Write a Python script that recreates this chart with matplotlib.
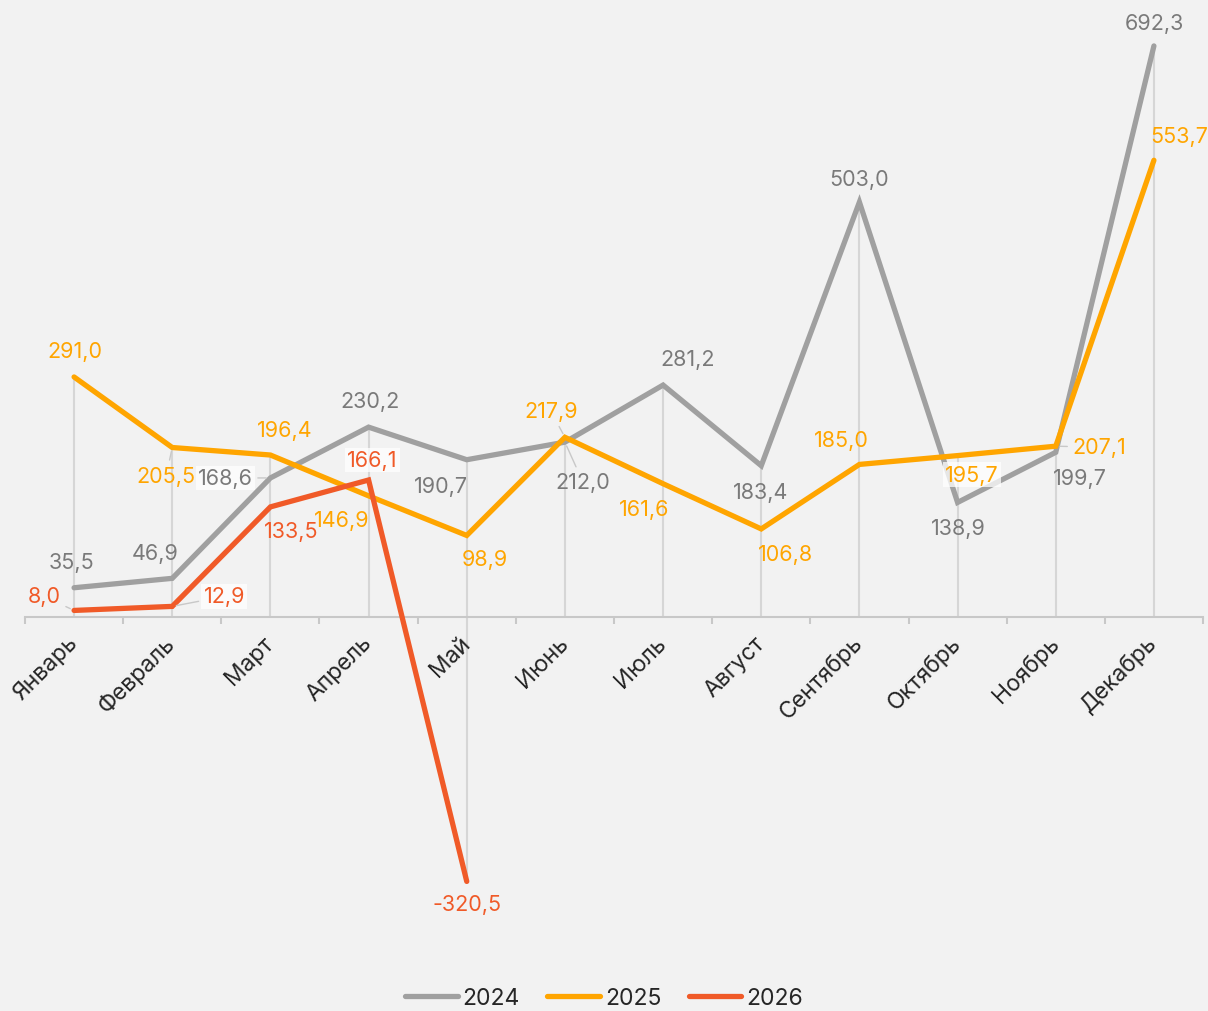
import numpy as np
import matplotlib
matplotlib.use("Agg")
import matplotlib.pyplot as plt

plt.rcParams['font.family'] = ['Inter', 'DejaVu Sans']

months = ['Январь', 'Февраль', 'Март', 'Апрель', 'Май', 'Июнь', 'Июль',
          'Август', 'Сентябрь', 'Октябрь', 'Ноябрь', 'Декабрь']
v2024 = [35.5, 46.9, 168.6, 230.2, 190.7, 212.0, 281.2, 183.4, 503.0, 138.9, 199.7, 692.3]
v2025 = [291.0, 205.5, 196.4, 146.9, 98.9, 217.9, 161.6, 106.8, 185.0, 195.7, 207.1, 553.7]
v2026 = [8.0, 12.9, 133.5, 166.1, -320.5]

# label offsets in pixels (dx, dy) for each point
off2024 = [(-3, 26), (-17, 25), (-45, 0), (1, 26), (-26, -26), (18, -40),
           (25, 26), (-1, -26), (0, 23), (1, -26), (24, -26), (1, 23)]
off2025 = [(1, 26), (-6, -28), (14, 25), (-27, -24), (18, -24), (-14, 26),
           (-19, -25), (24, -25), (-18, 24), (14, -19), (44, -1), (25, 24)]
off2026 = [(-30, 14), (52, 10), (21, -24), (4, 20), (0, -23)]

boxed = {('2024', 2), ('2026', 1), ('2026', 3), ('2025', 9)}
leaders = {('2024', 2), ('2024', 5), ('2025', 1), ('2025', 5), ('2025', 10),
           ('2026', 1), ('2026', 0)}

bg = '#f2f2f2'
series = [('2024', v2024, '#a0a0a0', '#7a7a7a', off2024),
          ('2025', v2025, '#ffa500', '#ffa500', off2025),
          ('2026', v2026, '#f05a28', '#f05a28', off2026)]

fig = plt.figure(figsize=(12.08, 10.12), dpi=100, facecolor=bg)
ax = fig.add_axes([25 / 1208, 0.1040, 1178 / 1208, 0.8722], facecolor=bg)
x = np.arange(len(months))

# drop lines from each point to the axis
for i in range(len(months)):
    vals = [v2024[i], v2025[i]] + ([v2026[i]] if i < len(v2026) else [])
    ax.vlines(i, min(0, min(vals)), max(0, max(vals)), color='#d6d6d6', lw=1.5, zorder=1)

for name, vals, col, tcol, offs in series:
    xs = x[:len(vals)]
    ax.plot(xs, vals, color=col, lw=3.8, solid_capstyle='round',
            solid_joinstyle='miter', label=name, zorder=3)
    for i, v in enumerate(vals):
        txt = f'{v:.1f}'.replace('.', ',')
        kw = {}
        if (name, i) in boxed:
            kw['bbox'] = dict(boxstyle='square,pad=0.1', fc='white', ec='none', alpha=0.75)
        if (name, i) in leaders:
            kw['arrowprops'] = dict(arrowstyle='-', color='#c8c8c8', lw=1,
                                    shrinkA=2, shrinkB=3)
        ax.annotate(txt, (i, v), xytext=offs[i], textcoords='offset pixels',
                    ha='center', va='center', fontsize=15.5, color=tcol, zorder=5, **kw)

ax.set_xlim(-0.5, 11.5)
ax.set_ylim(-350, 720)
ax.set_yticks([])
for s in ['left', 'right', 'top']:
    ax.spines[s].set_visible(False)
ax.spines['bottom'].set_position(('data', 0))
ax.spines['bottom'].set_color('#c8c8c8')
ax.spines['bottom'].set_linewidth(1.5)

ax.set_xticks(x)
ax.set_xticks(np.arange(-0.5, 12, 1), minor=True)
ax.tick_params(axis='x', which='major', length=0, pad=16)
ax.tick_params(axis='x', which='minor', length=5, width=1.5, color='#c8c8c8')
ax.set_xticklabels(months, rotation=45, ha='right', va='center',
                   rotation_mode='anchor', fontsize=16.5, color='#262626')

leg = fig.legend(loc='lower center', bbox_to_anchor=(0.5, -0.018), ncol=3,
                 frameon=False, fontsize=16.5, handlelength=2.3, columnspacing=1.2,
                 handletextpad=0.2)
for t in leg.get_texts():
    t.set_color('#262626')

plt.savefig('out.png', dpi=100, facecolor=bg)
